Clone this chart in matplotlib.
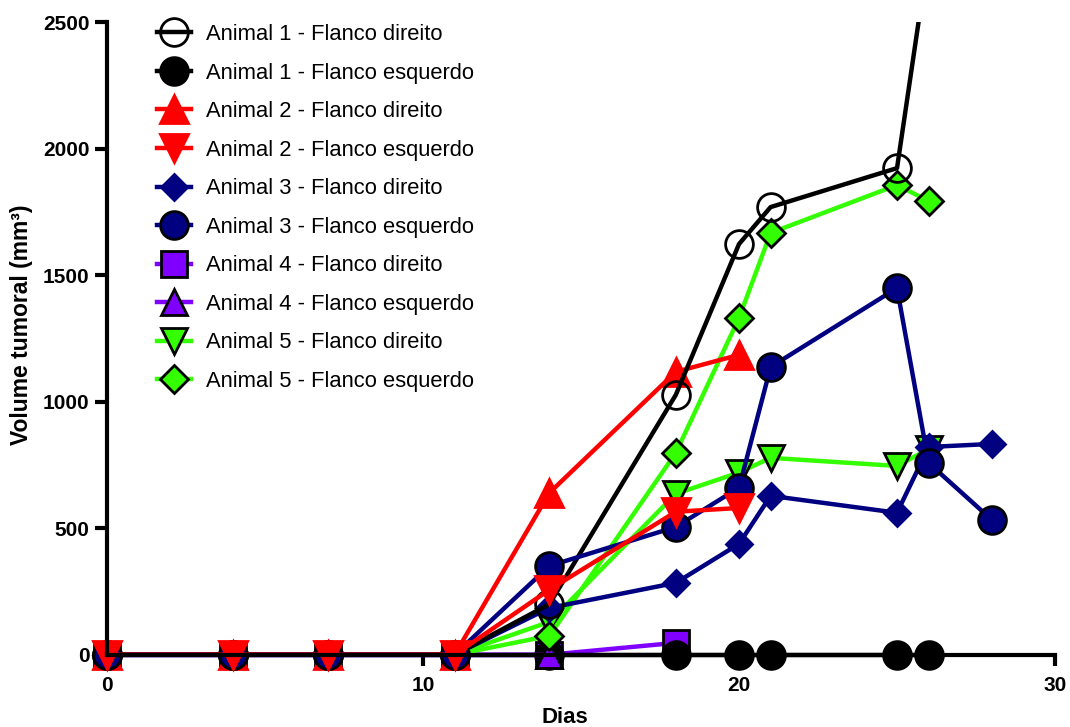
import matplotlib
matplotlib.use('Agg')
import matplotlib.pyplot as plt

plt.rcParams['font.family'] = ['Liberation Sans', 'DejaVu Sans']

# dias de medição
dias = [0, 4, 7, 11, 14, 18, 20, 21, 25, 26, 28]

# volumes (mm3)
a1_dir = [0, 0, 0, 0, 200, 1027, 1623, 1769, 1923, 2770]
a1_esq = [0, 0, 0, 0, 0, 0, 0, 0, 0, 0]
a2_dir = [0, 0, 0, 0, 640, 1118, 1185]
a2_esq = [0, 0, 0, 0, 257, 565, 580]
a3_dir = [0, 0, 0, 0, 185, 284, 438, 628, 561, 821, 833]
a3_esq = [0, 0, 0, 0, 351, 505, 660, 1137, 1449, 758, 533]
a4_dir = [0, 0, 0, 0, 0, 47]
a4_esq = [0, 0, 0, 0, 0]
a5_dir = [0, 0, 0, 0, 130, 636, 720, 778, 746, 813]
a5_esq = [0, 0, 0, 0, 75, 798, 1331, 1667, 1856, 1793]

labels = ['Animal 1 - Flanco direito', 'Animal 1 - Flanco esquerdo',
          'Animal 2 - Flanco direito', 'Animal 2 - Flanco esquerdo',
          'Animal 3 - Flanco direito', 'Animal 3 - Flanco esquerdo',
          'Animal 4 - Flanco direito', 'Animal 4 - Flanco esquerdo',
          'Animal 5 - Flanco direito', 'Animal 5 - Flanco esquerdo']

black = '#000000'
red = '#FF0000'
navy = '#000080'
purple = '#7F00FF'
green = '#33FF00'

# (valores, cor da linha, marcador, cor de preenchimento, borda, tamanho, zorder)
series = [
    (a1_dir, black, 'o', 'none', black, 20, 9),
    (a1_esq, black, 'o', black, black, 20, 4),
    (a2_dir, red, '^', red, red, 20, 8),
    (a2_esq, red, 'v', red, red, 20, 11),
    (a3_dir, navy, 'D', navy, navy, 13, 7),
    (a3_esq, navy, 'o', navy, black, 20, 10),
    (a4_dir, purple, 's', purple, black, 19, 3),
    (a4_esq, purple, '^', purple, black, 19, 6),
    (a5_dir, green, 'v', green, black, 19, 5),
    (a5_esq, green, 'D', green, black, 14, 6.5),
]

fig = plt.figure(figsize=(10.7, 7.27), dpi=100)
ax = fig.add_axes([0.0705, 0.0646, 0.9155, 0.905])

for (vals, lc, mk, fc, ec, ms, z), lab in zip(series, labels):
    ax.plot(dias[:len(vals)], vals, color=lc, lw=3.2, marker=mk,
            markerfacecolor=fc, markeredgecolor=ec, markeredgewidth=2,
            markersize=ms, label=lab, zorder=z)

ax.set_xlim(-1, 30)
ax.set_ylim(-100, 2500)
ax.spines['left'].set_position(('data', 0))
ax.spines['bottom'].set_position(('data', 0))
ax.spines['left'].set_bounds(0, 2500)
ax.spines['bottom'].set_bounds(0, 30)
ax.spines['top'].set_visible(False)
ax.spines['right'].set_visible(False)
for s in ['left', 'bottom']:
    ax.spines[s].set_linewidth(3)
    ax.spines[s].set_zorder(12)

ax.set_xticks([0, 10, 20, 30])
ax.set_yticks([0, 500, 1000, 1500, 2000, 2500])
ax.tick_params(width=3, length=9, labelsize=15, direction='out')
ax.tick_params(axis='x', length=8, pad=7)
for t in ax.get_xticklabels() + ax.get_yticklabels():
    t.set_fontweight('bold')

ax.set_xlabel('Dias', fontsize=16, fontweight='bold')
ax.set_ylabel('Volume tumoral (mm³)', fontsize=16.5, fontweight='bold')
ax.xaxis.set_label_coords(0.5, -0.041)
ax.yaxis.set_label_coords(-0.043, 0.54)

ax.legend(loc='upper left', bbox_to_anchor=(157 / 1070, 1 - 24 / 727),
          bbox_transform=fig.transFigure, frameon=False, fontsize=15.8,
          borderpad=0, handlelength=1.55, handletextpad=0.68, labelspacing=0.8,
          borderaxespad=0)

fig.savefig('out.png', dpi=100)
